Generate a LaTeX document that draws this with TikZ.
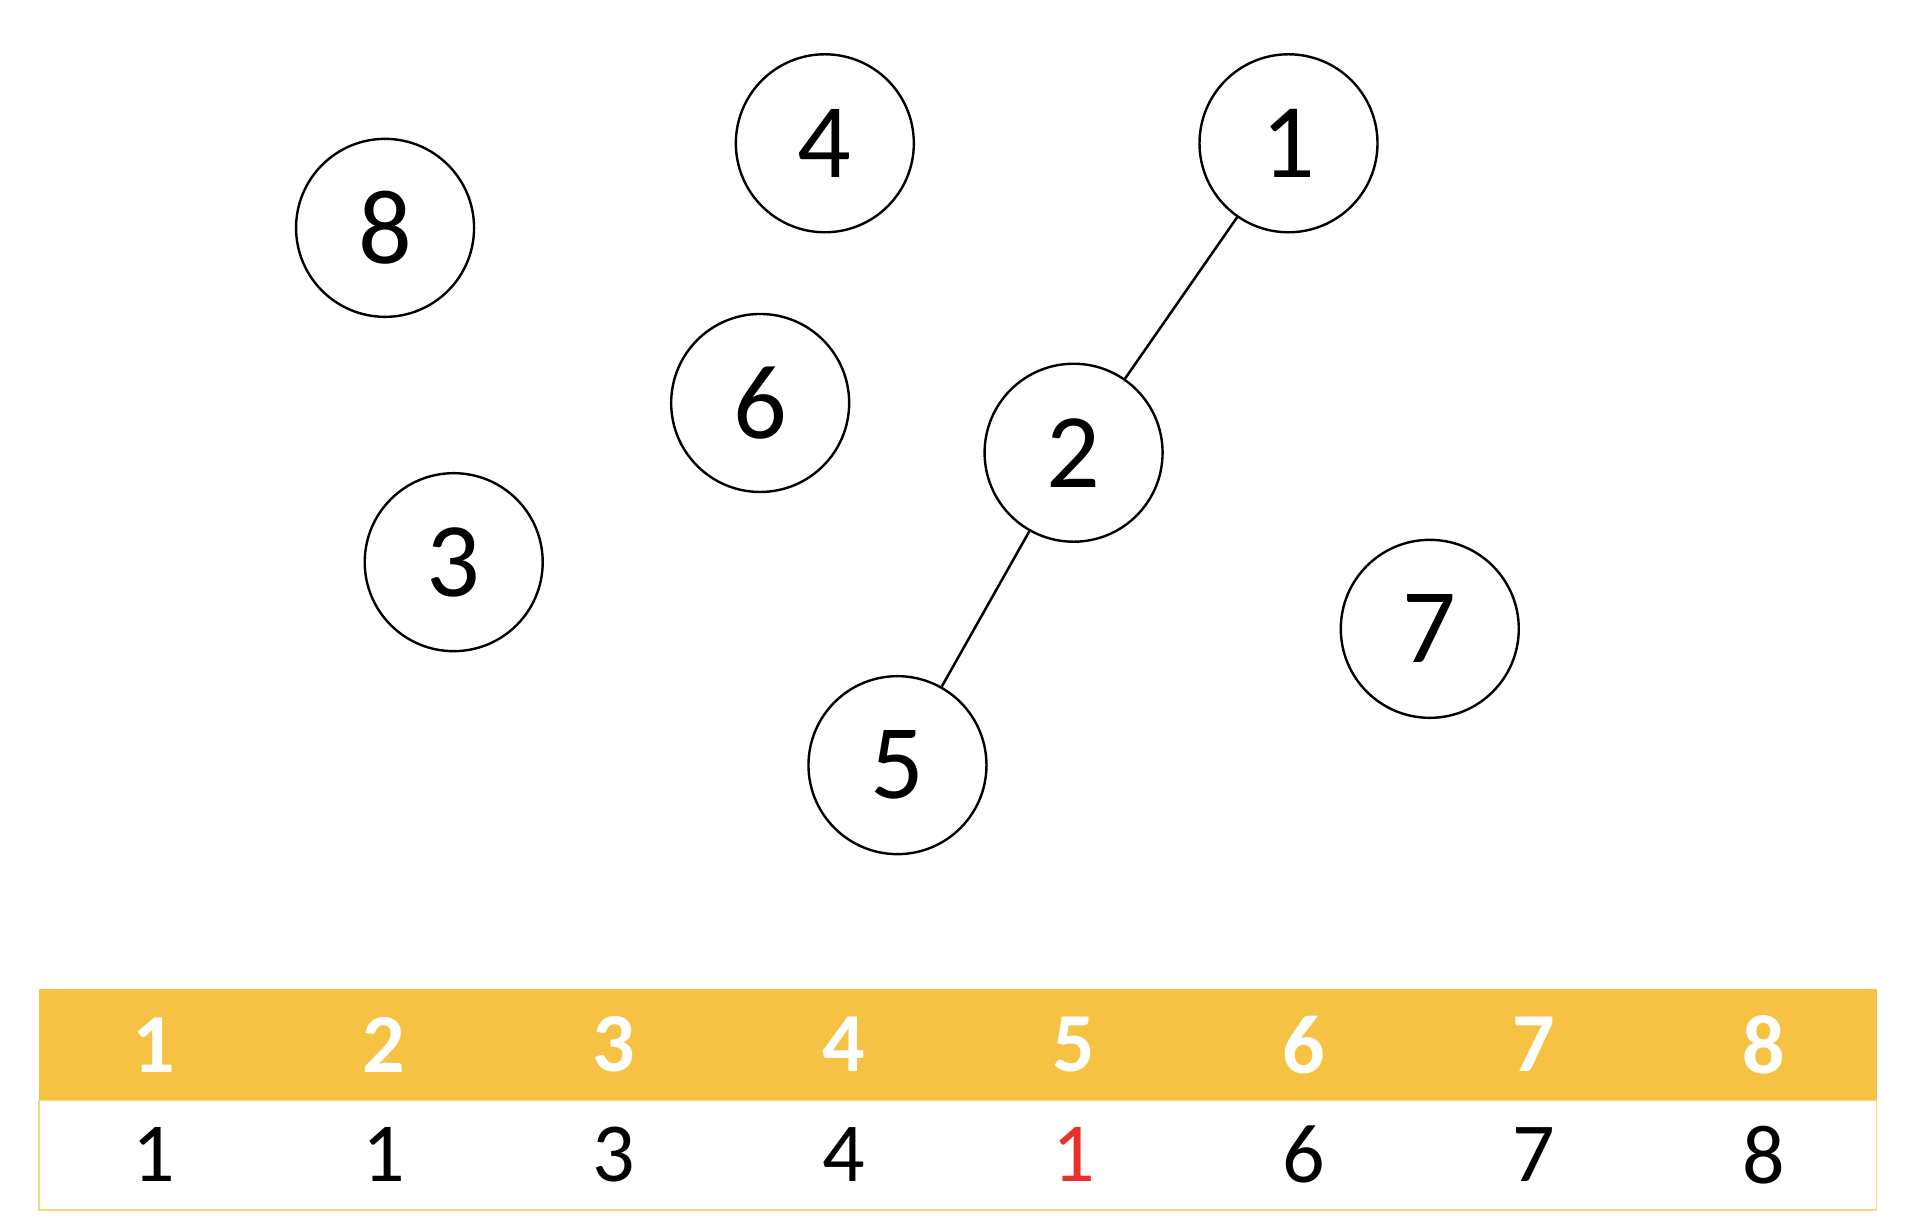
\documentclass[tikz,border=0pt]{standalone}
\usepackage{fontspec}
\setmainfont{Carlito}
\usepackage{tikz}
\usetikzlibrary{positioning}
\definecolor{headyellow}{HTML}{F5C243}
\definecolor{rimyellow}{HTML}{F9D67E}
\definecolor{redval}{HTML}{E8312A}
\tikzstyle{elem} = [circle, draw, line width=2.4pt, minimum size=178pt, inner sep=0pt, font=\fontsize{106}{124}\selectfont]
\tikzstyle{link} = [line width=2.5pt]
\tikzstyle{idx} = [text=white, font=\bfseries\fontsize{84}{100}\selectfont]
\tikzstyle{par} = [font=\fontsize{84}{100}\selectfont]

\begin{document}
\begin{tikzpicture}[x=0.995pt, y=-0.995pt]
  \useasboundingbox (0,0) rectangle (1931.7,1238.2);

  % the forest
  \node (n8) [elem] at (387,229) {8};
  \node (n4) [elem] at (829,144) {4};
  \node (n1) [elem] at (1295,144) {1};
  \node (n6) [elem] at (764,405) {6};
  \node (n2) [elem] at (1079,455) {2};
  \node (n3) [elem] at (456,565) {3};
  \node (n7) [elem] at (1437,632) {7};
  \node (n5) [elem] at (902,769) {5};

  \draw [link] (n1) -- (n2);
  \draw [link] (n2) -- (n5);

  % the parent array
  \fill [headyellow] (39,994) rectangle (1886,1106);
  \draw [rimyellow, line width=1.5pt] (39,1106) rectangle (1886,1216);

  \node (h1) [idx] at (155,1050) {1};
  \node (h2) [idx, right=230pt of h1.center, anchor=center] {2};
  \node (h3) [idx, right=230pt of h2.center, anchor=center] {3};
  \node (h4) [idx, right=230pt of h3.center, anchor=center] {4};
  \node (h5) [idx, right=230pt of h4.center, anchor=center] {5};
  \node (h6) [idx, right=230pt of h5.center, anchor=center] {6};
  \node (h7) [idx, right=230pt of h6.center, anchor=center] {7};
  \node (h8) [idx, right=230pt of h7.center, anchor=center] {8};

  \node (p1) [par, below=110pt of h1.center, anchor=center] {1};
  \node (p2) [par, below=110pt of h2.center, anchor=center] {1};
  \node (p3) [par, below=110pt of h3.center, anchor=center] {3};
  \node (p4) [par, below=110pt of h4.center, anchor=center] {4};
  \node (p5) [par, text=redval, below=110pt of h5.center, anchor=center] {1};
  \node (p6) [par, below=110pt of h6.center, anchor=center] {6};
  \node (p7) [par, below=110pt of h7.center, anchor=center] {7};
  \node (p8) [par, below=110pt of h8.center, anchor=center] {8};
\end{tikzpicture}
\end{document}
